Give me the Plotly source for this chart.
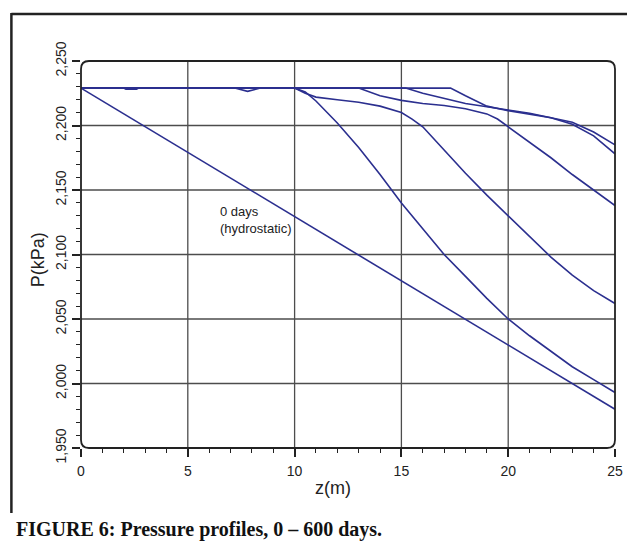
import plotly.graph_objects as go

# ---------------- data ----------------
x_ticks = [0, 5, 10, 15, 20, 25]
y_ticks = [1950, 2000, 2050, 2100, 2150, 2200, 2250]

hydro_z = [0, 25]
hydro_p = [2229, 1980]

c1_z = [0, 7.2, 7.8, 8.4, 10, 10.5, 11, 12, 13, 14, 15, 16, 17, 18, 19, 20, 21, 22, 23, 24, 25]
c1_p = [2229, 2229, 2226.5, 2229, 2229, 2226, 2219, 2202, 2183, 2162, 2140, 2120, 2100, 2083, 2066, 2050, 2037, 2025, 2013, 2003, 1993]

c2_z = [0, 10, 10.5, 11, 12, 13, 14, 15, 15.5, 16, 17, 18, 19, 20, 21, 22, 23, 24, 25]
c2_p = [2229, 2229, 2225, 2222, 2220, 2218, 2215, 2210, 2205, 2199, 2181, 2163, 2146, 2130, 2114, 2098, 2084, 2072, 2062]

c3_z = [0, 2.0, 2.1, 2.6, 2.7, 13, 14, 15, 16, 17, 18, 19, 19.5, 20, 21, 22, 23, 24, 25]
c3_p = [2229, 2229, 2228.2, 2228.2, 2229, 2229, 2223, 2219.5, 2217, 2215.5, 2213, 2209, 2205, 2199, 2187, 2175, 2162, 2150, 2138]

c4_z = [0, 15.2, 16, 17, 18, 19, 20, 21, 22, 23, 24, 25]
c4_p = [2229, 2229, 2225, 2221, 2217, 2214.5, 2212, 2209.5, 2206, 2201, 2192, 2178]

c5_z = [0, 17.3, 18, 19, 20, 21, 22, 23, 24, 25]
c5_p = [2229, 2229, 2223, 2215, 2211.5, 2209, 2206, 2202.5, 2195, 2185]

curves = [(hydro_z, hydro_p), (c1_z, c1_p), (c2_z, c2_p), (c3_z, c3_p), (c4_z, c4_p), (c5_z, c5_p)]

# ---------------- layout geometry ----------------
# page body has an 8px margin: the figure is drawn 8px in from the top-left
OFF = 8
W, H = 635 - OFF, 545 - OFF
L, R, T, B = 81 - OFF, 17, 61 - OFF, 97
PW, PH = W - L - R, H - T - B


def px_x(X):
    """reference-image x pixel -> paper coordinate"""
    return (X - OFF - L) / PW


def px_y(Y):
    """reference-image y pixel -> paper coordinate"""
    return (H - B - (Y - OFF)) / PH


LINE = "#2b2f8f"
DARK = "#222222"
GRID = "#4d4d4d"

fig = go.Figure()
for zz, pp in curves:
    fig.add_trace(go.Scatter(x=zz, y=pp, mode="lines",
                             line=dict(color=LINE, width=1.6),
                             showlegend=False, hoverinfo="skip"))

shapes = []
# grid lines
for xv in x_ticks[1:-1]:
    shapes.append(dict(type="line", xref="x", yref="paper", x0=xv, x1=xv, y0=0, y1=1,
                       line=dict(color=GRID, width=1.3), layer="below"))
for yv in y_ticks[1:-1]:
    shapes.append(dict(type="line", xref="paper", yref="y", x0=0, x1=1, y0=yv, y1=yv,
                       line=dict(color=GRID, width=1.3), layer="below"))

# rounded frame
rx, ry = 8 / PW, 8 / PH
path = (f"M {rx},0 L {1-rx},0 Q 1,0 1,{ry} L 1,{1-ry} Q 1,1 {1-rx},1 "
        f"L {rx},1 Q 0,1 0,{1-ry} L 0,{ry} Q 0,0 {rx},0 Z")
shapes.append(dict(type="path", xref="paper", yref="paper", path=path,
                   line=dict(color=DARK, width=1.8), layer="above"))

# outer figure border (top + left)
shapes.append(dict(type="line", xref="paper", yref="paper",
                   x0=px_x(11), x1=px_x(660), y0=px_y(14), y1=px_y(14),
                   line=dict(color=DARK, width=2.5)))
shapes.append(dict(type="line", xref="paper", yref="paper",
                   x0=px_x(11), x1=px_x(11), y0=px_y(13), y1=px_y(513),
                   line=dict(color=DARK, width=2.5)))

annotations = [
    dict(text="0 days<br>(hydrostatic)", xref="paper", yref="paper",
         x=px_x(219), y=px_y(220), xanchor="left", yanchor="middle", align="left",
         showarrow=False, font=dict(family="Liberation Sans, Arial", size=13, color=DARK)),
    dict(text="P(kPa)", xref="paper", yref="paper", x=px_x(38), y=px_y(260),
         xanchor="center", yanchor="middle", textangle=-90, showarrow=False,
         font=dict(family="Liberation Sans, Arial", size=18, color=DARK)),
    dict(text="z(m)", xref="paper", yref="paper", x=px_x(334), y=px_y(488),
         xanchor="center", yanchor="middle", showarrow=False,
         font=dict(family="Liberation Sans, Arial", size=18, color=DARK)),
    dict(text="<b>FIGURE 6: Pressure profiles, 0 – 600 days.</b>", xref="paper", yref="paper",
         x=px_x(14), y=px_y(529), xanchor="left", yanchor="middle", showarrow=False,
         font=dict(family="Liberation Serif, Times New Roman", size=20, color="#111111")),
]

fig.update_layout(
    width=W, height=H,
    margin=dict(l=L, r=R, t=T, b=B, pad=0),
    paper_bgcolor="white", plot_bgcolor="white",
    shapes=shapes, annotations=annotations,
    xaxis=dict(range=[0, 25], tickvals=x_ticks, showgrid=False, zeroline=False,
               showline=False, ticks="outside", ticklen=8, tickwidth=1.5, tickcolor=DARK,
               ticklabelstandoff=2,
               tickfont=dict(family="Liberation Sans, Arial", size=14, color=DARK),
               minor=dict(dtick=1, tick0=0, ticks="outside", ticklen=4, tickwidth=1.3,
                          tickcolor=DARK, showgrid=False)),
    yaxis=dict(range=[1950, 2250], tickvals=y_ticks, tickformat=",d", showgrid=False,
               zeroline=False, showline=False, ticks="outside", ticklen=8, tickwidth=1.5,
               tickcolor=DARK, tickangle=-90,
               tickfont=dict(family="Liberation Sans, Arial", size=14, color=DARK),
               minor=dict(dtick=10, tick0=1950, ticks="outside", ticklen=4, tickwidth=1.3,
                          tickcolor=DARK, showgrid=False)),
)

fig.write_html("out.html")
